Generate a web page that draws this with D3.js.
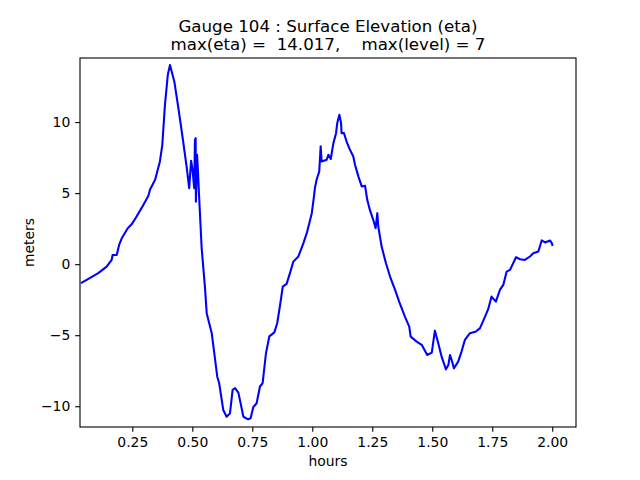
<!DOCTYPE html>
<html>
<head>
<meta charset="utf-8">
<script src="https://cdn.jsdelivr.net/npm/d3@7"></script>
<style>
  body { margin: 0; background: #fff; }
  svg text { font-family: "DejaVu Sans", sans-serif; }
</style>
</head>
<body>
<div id="chart"></div>
<script>
// gauge trace
const hours = [
  0.036, 0.067, 0.108, 0.143, 0.164, 0.168, 0.185, 0.195, 0.206, 0.231,
  0.248, 0.264, 0.289, 0.317, 0.324, 0.345, 0.365, 0.375, 0.386, 0.398,
  0.407, 0.425, 0.442, 0.458, 0.477, 0.487, 0.495, 0.500, 0.508, 0.511,
  0.514, 0.515, 0.520, 0.524, 0.528, 0.539, 0.553, 0.560, 0.581, 0.604,
  0.612, 0.629, 0.643, 0.657, 0.668, 0.678, 0.692, 0.713, 0.733, 0.743,
  0.754, 0.768, 0.782, 0.793, 0.807, 0.821, 0.842, 0.854, 0.865, 0.877,
  0.893, 0.907, 0.921, 0.942, 0.963, 0.977, 0.998, 1.007, 1.011, 1.018,
  1.029, 1.035, 1.039, 1.060, 1.067, 1.077, 1.088, 1.099, 1.104, 1.113,
  1.120, 1.122, 1.132, 1.143, 1.157, 1.171, 1.178, 1.192, 1.206, 1.220,
  1.229, 1.240, 1.254, 1.264, 1.271, 1.275, 1.289, 1.307, 1.324, 1.345,
  1.362, 1.386, 1.404, 1.410, 1.435, 1.456, 1.479, 1.498, 1.511, 1.525,
  1.539, 1.557, 1.567, 1.574, 1.581, 1.590, 1.608, 1.622, 1.636, 1.657,
  1.682, 1.699, 1.720, 1.733, 1.747, 1.765, 1.782, 1.796, 1.810, 1.824,
  1.849, 1.866, 1.886, 1.907, 1.921, 1.942, 1.956, 1.970, 1.991, 1.998,
  2.002
]
const eta = [
  -1.34, -1.04, -0.63, -0.17, 0.30, 0.65, 0.65, 1.35, 1.82, 2.53,
  2.82, 3.25, 3.96, 4.82, 5.25, 5.94, 7.23, 8.40, 11.21, 13.33,
  14.02, 12.86, 10.98, 9.11, 6.77, 5.35, 7.28, 6.77, 5.35, 8.75,
  8.87, 4.40, 7.70, 6.41, 4.89, 1.13, -1.69, -3.45, -4.86, -7.92,
  -8.38, -10.26, -10.74, -10.50, -8.85, -8.73, -9.04, -10.74, -10.92, -10.85,
  -10.07, -9.79, -8.61, -8.38, -6.27, -5.08, -4.80, -4.14, -2.96, -1.58,
  -1.39, -0.63, 0.18, 0.54, 1.48, 2.18, 3.59, 4.77, 5.36, 5.94,
  6.53, 8.29, 7.23, 7.35, 7.70, 7.40, 8.52, 9.22, 9.93, 10.51,
  9.93, 9.22, 9.22, 8.63, 8.05, 7.58, 7.00, 6.18, 5.47, 5.52,
  4.53, 3.82, 3.12, 2.53, 3.59, 2.65, 1.24, 0.06, -0.87, -1.81,
  -2.64, -3.69, -4.40, -5.10, -5.45, -5.68, -6.39, -6.23, -4.68, -5.57,
  -6.51, -7.40, -7.10, -6.39, -6.75, -7.33, -6.86, -6.15, -5.33, -4.86,
  -4.74, -4.50, -3.69, -3.17, -2.28, -2.64, -1.81, -1.46, -0.52, -0.40,
  0.49, 0.35, 0.30, 0.54, 0.77, 0.89, 1.67, 1.53, 1.67, 1.48,
  1.29
]
const xTicks = [0.25, 0.5, 0.75, 1.0, 1.25, 1.5, 1.75, 2.0]
const yTicks = [-10, -5, 0, 5, 10]
const titleLines = [
  "Gauge 104 : Surface Elevation (eta)",
  "max(eta) =  14.017,    max(level) = 7"
]

const W = 640, H = 480
const margin = { top: 58, right: 64, bottom: 53, left: 80 }
const width = W - margin.left - margin.right
const height = H - margin.top - margin.bottom

const svg = d3.select("#chart")
  .append("svg")
  .attr("width", W)
  .attr("height", H)

const g = svg.append("g")
  .attr("transform", `translate(${margin.left},${margin.top})`)

const x = d3.scaleLinear().domain([0.032, 2.099]).range([0, width])
const y = d3.scaleLinear().domain([-11.46, 14.51]).range([height, 0])

const data = hours.map((h, i) => ({ h: h, v: eta[i] }))

const line = d3.line()
  .x(d => x(d.h))
  .y(d => y(d.v))

g.append("path")
  .datum(data)
  .attr("fill", "none")
  .attr("stroke", "#0000ff")
  .attr("stroke-width", 2.08)
  .attr("stroke-linejoin", "round")
  .attr("d", line)

// axes
const tick = 4.86
g.append("g")
  .attr("transform", `translate(0,${height})`)
  .call(d3.axisBottom(x).tickValues(xTicks).tickFormat(d3.format(".2f"))
    .tickSize(tick).tickPadding(tick))
  .call(a => a.select(".domain").remove())
  .call(a => a.selectAll(".tick line").attr("stroke", "#000").attr("stroke-width", 1.1))
  .selectAll("text")
  .style("font-size", "13.9px")
  .attr("fill", "#000")

g.append("g")
  .call(d3.axisLeft(y).tickValues(yTicks).tickFormat(d3.format("d"))
    .tickSize(tick).tickPadding(tick))
  .call(a => a.select(".domain").remove())
  .call(a => a.selectAll(".tick line").attr("stroke", "#000").attr("stroke-width", 1.1))
  .selectAll("text")
  .style("font-size", "13.9px")
  .attr("fill", "#000")

// frame
g.append("rect")
  .attr("width", width)
  .attr("height", height)
  .attr("fill", "none")
  .attr("stroke", "#000")
  .attr("stroke-width", 1.1)

// labels
svg.append("text")
  .attr("x", margin.left + width / 2)
  .attr("y", 466)
  .attr("text-anchor", "middle")
  .style("font-size", "13.9px")
  .text("hours")

svg.append("text")
  .attr("transform", `translate(34,${margin.top + height / 2}) rotate(-90)`)
  .attr("text-anchor", "middle")
  .style("font-size", "13.9px")
  .text("meters")

svg.selectAll(".title")
  .data(titleLines)
  .join("text")
  .attr("class", "title")
  .attr("x", margin.left + width / 2)
  .attr("y", (d, i) => 32 + i * 18)
  .attr("text-anchor", "middle")
  .style("font-size", "16.67px")
  .style("white-space", "pre")
  .text(d => d)
</script>
</body>
</html>
